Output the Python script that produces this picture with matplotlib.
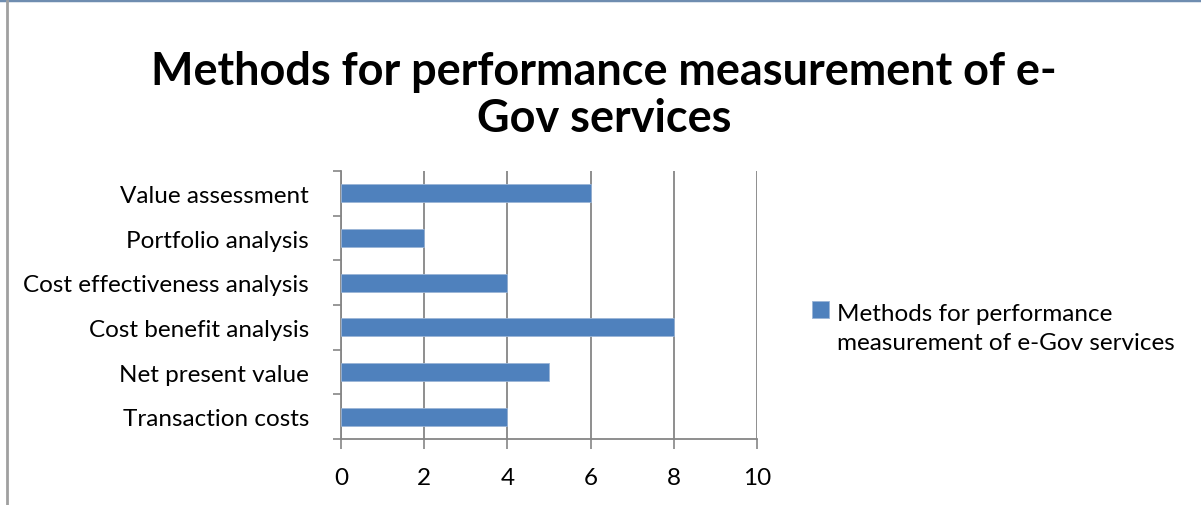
import matplotlib.pyplot as plt
from matplotlib.lines import Line2D
import numpy as np

plt.rcParams['font.family'] = ['Lato', 'DejaVu Sans']

methods = ['Transaction costs', 'Net present value', 'Cost benefit analysis',
           'Cost effectiveness analysis', 'Portfolio analysis', 'Value assessment']
counts = [4, 5, 8, 4, 2, 6]
xticks = [0, 2, 4, 6, 8, 10]
series_name = 'Methods for performance\nmeasurement of e-Gov services'
title = 'Methods for performance measurement of e-\nGov services'

bar_color = '#4F81BD'
grid_color = '#868686'
label_size = 17.5

fig = plt.figure(figsize=(12.01, 5.06), dpi=100)
ax = fig.add_axes([0.2839, 0.1304, 0.3464, 0.5296])

y = np.arange(len(methods))
ax.barh(y, counts, height=0.4, color=bar_color, edgecolor='#9bb5d6',
        linewidth=0.6, zorder=3, label=series_name)

ax.set_xlim(0, 10)
ax.set_ylim(-0.5, len(methods) - 0.5)
ax.set_xticks(xticks)
ax.set_xticklabels([str(t) for t in xticks])
ax.set_yticks(y)
ax.set_yticklabels(methods)
ax.set_yticks(np.arange(-0.5, len(methods)), minor=True)

ax.tick_params(axis='y', which='major', length=0, pad=23, labelsize=label_size)
ax.tick_params(axis='y', which='minor', length=6, width=1.2, color=grid_color,
               direction='out')
ax.tick_params(axis='x', length=7, width=1.2, color=grid_color, direction='out',
               pad=13, labelsize=label_size)

ax.grid(axis='x', color=grid_color, linewidth=1.3, zorder=0)
for side in ['top', 'right']:
    ax.spines[side].set_visible(False)
for side in ['left', 'bottom']:
    ax.spines[side].set_color(grid_color)
    ax.spines[side].set_linewidth(1.3)

fig.text(0.503, 0.812, title, ha='center', va='center', fontsize=32.4,
         fontweight='bold', linespacing=1.14)

leg = ax.legend(loc='center left', bbox_to_anchor=(1.11, 0.415), frameon=False,
                fontsize=label_size, handlelength=0.66, handleheight=0.66,
                handletextpad=0.33, borderaxespad=0, labelspacing=0)
for t in leg.get_texts():
    t.set_linespacing(1.45)
# lift the legend swatch up to the first line of its label
swatch = leg.legend_handles[0]
swatch.set_y(swatch.get_y() + label_size * 0.75)

# frame edges of the chart area
fig.add_artist(Line2D([0, 1], [0.998, 0.998], color='#6f8db0', linewidth=2.5,
                      transform=fig.transFigure))
fig.add_artist(Line2D([0.0058, 0.0058], [0, 0.996], color='#a0a0a0',
                      linewidth=2, transform=fig.transFigure))

fig.savefig('out.png', dpi=100)
